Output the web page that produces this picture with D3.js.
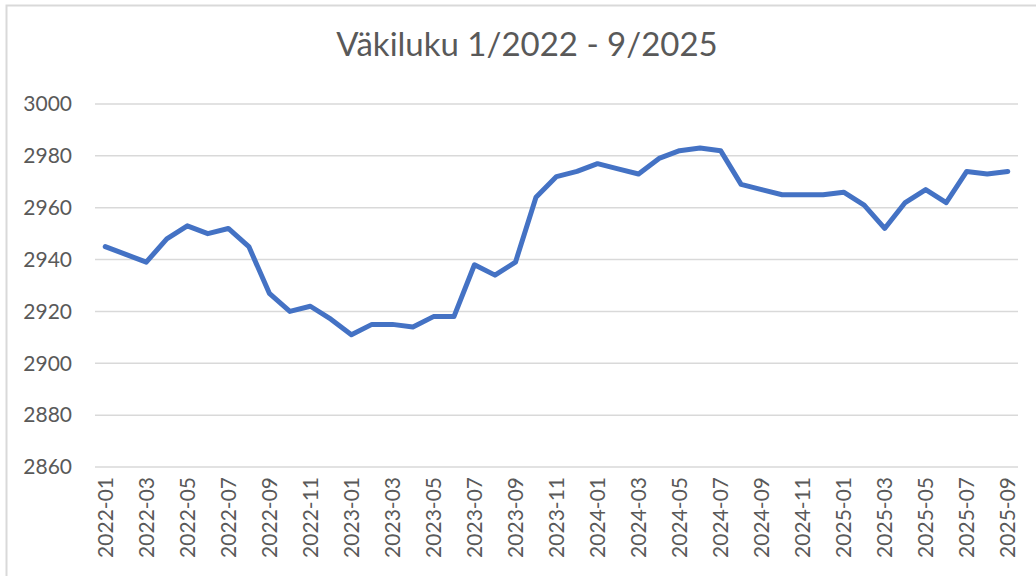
<!DOCTYPE html>
<html>
<head>
<meta charset="utf-8">
<script src="https://cdn.jsdelivr.net/npm/d3@7"></script>
<style>
  body { margin: 0; background: #fff; }
  svg { display: block; font-family: Lato, "Open Sans", sans-serif; }
</style>
</head>
<body>
<script>
// months 2022-01 .. 2025-09
var months = [];
for (var yr = 2022; yr <= 2025; yr++) {
  for (var m = 1; m <= 12; m++) {
    if (yr == 2025 && m > 9) break;
    months.push(yr + '-' + (m < 10 ? '0' + m : m));
  }
}

var population = [
  2945, 2942, 2939, 2948, 2953, 2950, 2952, 2945, 2927, 2920, 2922, 2917,
  2911, 2915, 2915, 2914, 2918, 2918, 2938, 2934, 2939, 2964, 2972, 2974,
  2977, 2975, 2973, 2979, 2982, 2983, 2982, 2969, 2967, 2965, 2965, 2965,
  2966, 2961, 2952, 2962, 2967, 2962, 2974, 2973, 2974
];

var yTicks = [2860, 2880, 2900, 2920, 2940, 2960, 2980, 3000];
var title = 'Väkiluku 1/2022 - 9/2025';

var width = 1036, height = 576;
var margin = {left: 95, right: 18, top: 104, bottom: 109};

var svg = d3.select('body').append('svg')
  .attr('width', width)
  .attr('height', height);

// chart border
svg.append('rect')
  .attr('x', 6.5).attr('y', 5.5)
  .attr('width', width + 10).attr('height', height + 10)
  .attr('fill', 'none')
  .attr('stroke', '#d9d9d9')
  .attr('stroke-width', 2);

svg.append('text')
  .attr('x', 527)
  .attr('y', 56)
  .attr('text-anchor', 'middle')
  .attr('fill', '#595959')
  .style('font-size', '33px')
  .text(title);

var x = d3.scaleBand()
  .domain(months)
  .range([margin.left, width - margin.right]);

var y = d3.scaleLinear()
  .domain([2860, 3000])
  .range([height - margin.bottom, margin.top]);

// gridlines
svg.append('g').selectAll('line')
  .data(yTicks)
  .enter()
  .append('line')
  .attr('x1', margin.left)
  .attr('x2', width - margin.right)
  .attr('y1', function(d) { return y(d); })
  .attr('y2', function(d) { return y(d); })
  .attr('stroke', '#d9d9d9')
  .attr('stroke-width', 1.5);

// y axis labels
var yAxis = svg.append('g')
  .attr('transform', 'translate(' + (margin.left - 23) + ',0)')
  .call(d3.axisLeft(y).tickValues(yTicks).tickFormat(d3.format('d')).tickSize(0).tickPadding(0));
yAxis.select('.domain').remove();
yAxis.selectAll('text')
  .attr('fill', '#595959')
  .style('font-size', '21px')
  .style('font-family', 'Lato, sans-serif');

// x axis labels (every second month)
var xAxis = svg.append('g')
  .attr('transform', 'translate(0,' + (height - margin.bottom) + ')')
  .call(d3.axisBottom(x)
    .tickValues(months.filter(function(d, i) { return i % 2 == 0; }))
    .tickSize(0));
xAxis.select('.domain').remove();
xAxis.selectAll('text')
  .attr('fill', '#595959')
  .style('font-size', '21px')
  .style('font-family', 'Lato, sans-serif')
  .attr('text-anchor', 'end')
  .attr('transform', 'rotate(-90)')
  .attr('x', -10)
  .attr('y', 0)
  .attr('dy', '0.35em');

var line = d3.line()
  .x(function(d, i) { return x(months[i]) + x.bandwidth() / 2; })
  .y(function(d) { return y(d); });

svg.append('path')
  .datum(population)
  .attr('d', line)
  .attr('fill', 'none')
  .attr('stroke', '#4472c4')
  .attr('stroke-width', 5)
  .attr('stroke-linejoin', 'round')
  .attr('stroke-linecap', 'round');
</script>
</body>
</html>
